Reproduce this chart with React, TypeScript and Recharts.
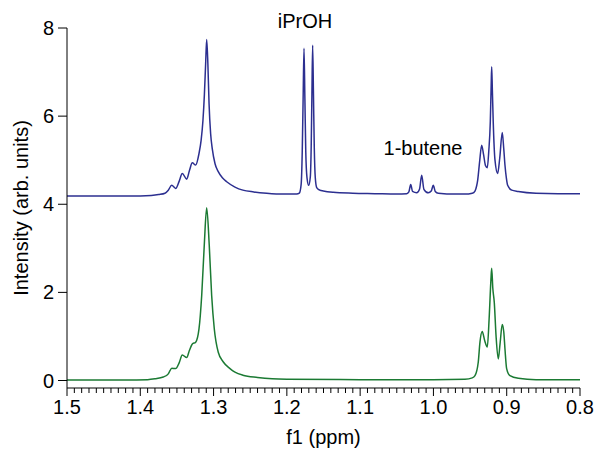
import { LineChart, Line, XAxis, YAxis, Label } from 'recharts';

const COLORS = {
    blue: '#2c2f90',
    green: '#1b7a33',
    axis: '#000000',
};

const FONT = '"Liberation Sans", Arial, sans-serif';

// [shift (ppm), intensity], high ppm first
const upperTrace: [number, number][] = [
    [1.5, 4.19], [1.45, 4.19], [1.4, 4.19], [1.385, 4.2], [1.375, 4.22],
    [1.3663, 4.25], [1.3618, 4.32], [1.3571, 4.43], [1.3517, 4.36], [1.347, 4.52],
    [1.3427, 4.7], [1.3367, 4.57], [1.333, 4.76], [1.329, 4.94], [1.3244, 4.89],
    [1.3199, 5.15], [1.317, 5.45], [1.3145, 5.9], [1.3125, 6.5], [1.3108, 7.2],
    [1.3094, 7.74], [1.3078, 7.2], [1.3062, 6.3], [1.304, 5.6], [1.3017, 5.25],
    [1.298, 4.92], [1.2936, 4.74], [1.288, 4.6], [1.2821, 4.51], [1.2708, 4.39],
    [1.26, 4.32], [1.245, 4.28], [1.2275, 4.25], [1.205, 4.23], [1.1866, 4.23],
    [1.183, 4.25], [1.1805, 4.45], [1.179, 5.2], [1.1778, 6.4], [1.1766, 7.54],
    [1.1754, 6.4], [1.1742, 5.2], [1.1725, 4.6], [1.1702, 4.43], [1.168, 4.62],
    [1.1668, 5.3], [1.1658, 6.5], [1.1648, 7.61], [1.1637, 6.5], [1.1626, 5.3],
    [1.1612, 4.6], [1.1593, 4.38], [1.155, 4.32], [1.1503, 4.3], [1.1367, 4.27],
    [1.11, 4.25], [1.08, 4.24], [1.05, 4.23], [1.0365, 4.24], [1.0335, 4.28],
    [1.031, 4.45], [1.0285, 4.29], [1.0228, 4.26], [1.019, 4.34], [1.016, 4.66],
    [1.013, 4.34], [1.007, 4.26], [1.003, 4.3], [1.0002, 4.43], [0.9975, 4.29],
    [0.9934, 4.25], [0.97, 4.23], [0.957, 4.23], [0.947, 4.25], [0.9433, 4.3],
    [0.941, 4.42], [0.9396, 4.55], [0.9369, 4.98], [0.9342, 5.34], [0.9315, 5.12],
    [0.929, 4.88], [0.9265, 4.83], [0.9245, 5.2], [0.9224, 5.87], [0.9212, 6.7],
    [0.9205, 7.12], [0.9196, 6.6], [0.9184, 5.87], [0.916, 5.0], [0.9124, 4.7],
    [0.9095, 5.05], [0.9061, 5.63], [0.904, 5.25], [0.9024, 4.89], [0.9005, 4.6],
    [0.8987, 4.43], [0.8932, 4.32], [0.8842, 4.29], [0.86, 4.25], [0.83, 4.24],
    [0.8, 4.24],
];

const lowerTrace: [number, number][] = [
    [1.5, 0.01], [1.42, 0.01], [1.39, 0.02], [1.38, 0.04], [1.3686, 0.08],
    [1.3618, 0.15], [1.3571, 0.28], [1.3517, 0.27], [1.347, 0.4], [1.3427, 0.58],
    [1.3367, 0.52], [1.333, 0.68], [1.329, 0.83], [1.3244, 0.87], [1.3199, 1.17],
    [1.3162, 1.93], [1.3127, 3.07], [1.3094, 3.92], [1.3059, 3.07], [1.3026, 1.93],
    [1.299, 1.17], [1.2936, 0.64], [1.2867, 0.42], [1.2776, 0.27], [1.2708, 0.19],
    [1.26, 0.12], [1.24, 0.07], [1.22, 0.04], [1.2, 0.03], [1.1, 0.02],
    [1.0, 0.02], [0.957, 0.03], [0.947, 0.06], [0.9433, 0.11], [0.9388, 0.42],
    [0.9365, 0.87], [0.9334, 1.11], [0.93, 0.9], [0.9265, 0.76], [0.924, 1.4],
    [0.9215, 2.3], [0.9205, 2.55], [0.919, 2.1], [0.917, 1.78], [0.9145, 1.0],
    [0.9115, 0.49], [0.909, 0.85], [0.9061, 1.27], [0.904, 1.1], [0.9024, 0.72],
    [0.9001, 0.27], [0.8956, 0.11], [0.8842, 0.05], [0.86, 0.02], [0.8, 0.02],
];

const xMajorTicks = [0.8, 0.9, 1.0, 1.1, 1.2, 1.3, 1.4, 1.5];
const yTicks = [0, 2, 4, 6, 8];
const annotations = [
    { text: 'iPrOH', left: 305, top: 11 },
    { text: '1-butene', left: 423, top: 138 },
];

// minor ticks every 0.01 ppm
const xTicks = Array.from({ length: 71 }, (_, i) => Math.round((0.8 + i * 0.01) * 100) / 100);

const toRows = (trace: [number, number][]) => trace.map(([ppm, v]) => ({ ppm, v }));

function PpmTick(props: any) {
    const { x, y, payload } = props;
    const v = payload.value;
    const major = xMajorTicks.some((m) => Math.abs(m - v) < 1e-6);
    return (
        <g>
            <line x1={x} x2={x} y1={y} y2={y + (major ? 8 : 5)} stroke={COLORS.axis} strokeWidth={1} />
            {major && (
                <text x={x} y={y + 26} textAnchor="middle" fontSize={20} fontFamily={FONT} fill="#000">
                    {v.toFixed(1)}
                </text>
            )}
        </g>
    );
}

export default function App() {
    return (
        <div style={{ position: 'absolute', left: 0, top: 0, width: 595, height: 451, background: '#fff' }}>
            <LineChart width={595} height={451} margin={{ top: 28, right: 15, bottom: 0, left: 0 }}>
                <XAxis
                    dataKey="ppm"
                    type="number"
                    domain={[0.8, 1.5]}
                    reversed
                    allowDataOverflow
                    ticks={xTicks}
                    interval={0}
                    tick={<PpmTick />}
                    tickLine={false}
                    tickSize={0}
                    tickMargin={0}
                    height={63}
                    stroke={COLORS.axis}
                >
                    <Label value="f1 (ppm)" position="center" dy={17} fontSize={20} fontFamily={FONT} fill="#000" />
                </XAxis>
                <YAxis
                    type="number"
                    domain={[-0.17, 8]}
                    allowDataOverflow
                    ticks={yTicks}
                    width={67}
                    tickSize={9}
                    tickMargin={4}
                    stroke={COLORS.axis}
                    tick={{ fontSize: 20, fontFamily: FONT, fill: '#000' }}
                >
                    <Label
                        value="Intensity (arb. units)"
                        position="center"
                        angle={-90}
                        dx={-13}
                        fontSize={20}
                        fontFamily={FONT}
                        fill="#000"
                    />
                </YAxis>
                <Line
                    data={toRows(upperTrace)}
                    dataKey="v"
                    type="monotone"
                    stroke={COLORS.blue}
                    strokeWidth={1.5}
                    dot={false}
                    isAnimationActive={false}
                />
                <Line
                    data={toRows(lowerTrace)}
                    dataKey="v"
                    type="monotone"
                    stroke={COLORS.green}
                    strokeWidth={1.5}
                    dot={false}
                    isAnimationActive={false}
                />
            </LineChart>
            {annotations.map((a) => (
                <div
                    key={a.text}
                    style={{
                        position: 'absolute',
                        left: a.left,
                        top: a.top,
                        transform: 'translateX(-50%)',
                        fontFamily: FONT,
                        fontSize: 20,
                        lineHeight: '20px',
                        whiteSpace: 'nowrap',
                        color: '#000',
                    }}
                >
                    {a.text}
                </div>
            ))}
        </div>
    );
}
